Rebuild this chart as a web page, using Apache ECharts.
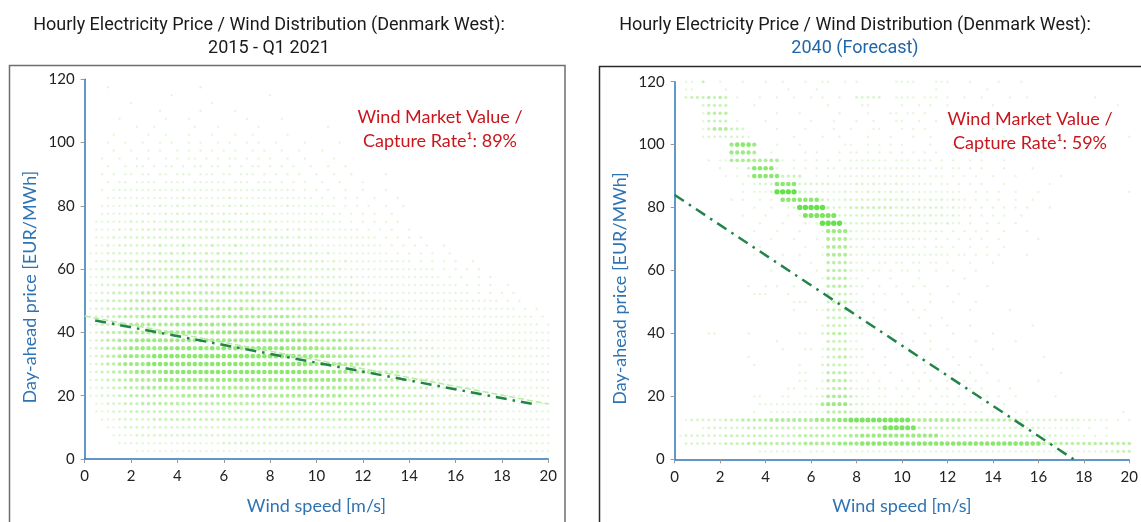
<!DOCTYPE html>
<html>
<head>
<meta charset="utf-8">
<title>Hourly Electricity Price / Wind Distribution (Denmark West)</title>
<script src="https://cdn.jsdelivr.net/npm/echarts@6/dist/echarts.min.js"></script>
<style>
  html, body { margin: 0; padding: 0; background: #ffffff; }
  #chart { width: 1141px; height: 522px; }
</style>
</head>
<body>
<div id="chart"></div>
<script>
// Price bins (EUR/MWh), one row of hourly counts per bin, top to bottom.
const priceLevels = [120, 117.5, 115, 112.5, 110, 107.5, 105, 102.5, 100, 97.5, 95, 92.5,
  90, 87.5, 85, 82.5, 80, 77.5, 75, 72.5, 70, 67.5, 65, 62.5, 60, 57.5, 55, 52.5, 50, 47.5,
  45, 42.5, 40, 37.5, 35, 32.5, 30, 27.5, 25, 22.5, 20, 17.5, 15, 12.5, 10, 7.5, 5, 2.5];

// Wind speed bin width (m/s); each row string has one density level (0-9) per bin,
// bins 0.25 ... 20 m/s, written in groups of ten.
const windBinWidth = 0.25;

// 2015 - Q1 2021 density levels
const histRows = [
  '0000000000 0000000000 0000000000 0000000000 0000000000 0000000000 0000000000 0000000000',
  '0001000000 0000000001 0000000000 0000000000 0000000000 0000000000 0000000000 0000000000',
  '0000000000 0000100000 0000000000 0100000000 0000000000 0000000000 0000000000 0000000000',
  '0000000100 0000000000 0100000000 0000000000 0000000000 0000000000 0000000000 0000000000',
  '0000000000 0010000001 0000010000 0000000000 0000000000 0000000000 0000000000 0000000000',
  '0000010000 0001000100 0000000100 0001000000 0000000000 0000000000 0000000000 0000000000',
  '0000000010 0100000010 0010000001 0000000000 0100000000 0000000000 0000000000 0000000000',
  '0000100000 1001000100 0100010010 0000100000 0000000000 0000000000 0000000000 0000000000',
  '0001001001 0010100101 0010100101 0010000100 0001000000 0000000000 0000000000 0000000000',
  '0000100100 1010010101 0101010010 1001001000 1000000000 0000000000 0000000000 0000000000',
  '0010010010 1001010110 1010110101 0100100100 0010000000 0000000000 0000000000 0000000000',
  '0001001011 0101101011 0110101011 0101010010 0100100000 0000000000 0000000000 0000000000',
  '0010101101 1011011101 1101101110 1010101001 0010010000 0100000000 0000000000 0000000000',
  '0001011011 1101111011 1111011101 1101010100 1001000100 0000000000 0000000000 0000000000',
  '0010111111 1111111111 1111111111 1111110101 0100100100 0100000000 0000000000 0000000000',
  '0001111111 1111112111 1111211111 1111111110 1010101001 0001000000 0000000000 0000000000',
  '0011111121 1121121121 1211212111 1111211111 1110101010 0100100000 0000000000 0000000000',
  '0011111111 2112121212 1212121211 2111111111 1011010101 0010000000 0000000000 0000000000',
  '0111111212 1212222122 2212212121 1211111111 1111010101 0101000000 0000000000 0000000000',
  '0111121212 2222222222 2222222222 2121212111 1111111010 1010010000 0000000000 0000000000',
  '0111212222 2222222222 2222222222 2222212121 1111111111 0101010100 0000000000 0000000000',
  '0112122222 2232223222 2322232222 2222222121 1111111111 1010101010 0100000000 0000000000',
  '1112222222 2232323232 3232323222 2222222222 1211111111 1101010101 0010000000 0000000000',
  '0112222232 3233333333 3333333232 3232222222 2121211111 1111110101 0101001000 0000000000',
  '1122222323 3333333333 3333333333 3333322222 2222111111 1111111111 0101010100 0000000000',
  '1122223333 3333343434 3434333333 3333323222 2222121111 1111111111 1010100101 0000000000',
  '1122233333 3434343434 4343434343 3333333322 2222222111 1111111111 1111010101 0010000000',
  '1122333334 4444444444 4444444444 4434333333 2222222211 1111111111 1111110101 0101000000',
  '1223333444 4444444444 4444444444 4444443333 3322222222 1111111111 1111111111 1010100000',
  '1223334444 4545454545 5454545454 4444444433 3333222222 2211111111 1111111111 1111010100',
  '1223344445 5555555555 5555555555 5555544444 3333332222 2222111111 1111111111 1111111010',
  '1233444555 5555565656 5656565555 5555555544 4444333322 2222211111 1111111111 1111111101',
  '1234445555 5666666666 6666666666 6666655555 4444443333 2222222111 1111111111 1111111111',
  '1234455566 6666666666 6666666666 6666666655 5555444433 3322222221 1111111111 1111111111',
  '1234455666 6667676767 6767676767 6767666666 5555554444 3333222222 1111111111 1111111111',
  '1234456666 6777777777 7777777777 7777776666 6655554444 3333332222 2111111111 1111111111',
  '1234456666 7777777777 7777777777 7777777766 6666555544 4433332222 2221111111 1111111111',
  '1233445566 6667777777 7777777777 7777777776 6666665555 4444333322 2222111111 1111111111',
  '1223344555 5566666666 6666666666 6666666666 6666555555 4444433332 2222221111 1111111111',
  '1122334445 5555555555 5555555555 5555555555 5555555544 4444333332 2222222111 1111111111',
  '1122233444 4444445555 5555555555 5555555555 5555444444 4444333333 2222222211 1111111111',
  '0112223334 4444444444 4444444444 4444444444 4444444444 3333333333 2222222222 1111111111',
  '0111222333 3333333333 3333333333 3333333333 3333333333 3333333322 2222222222 1111111111',
  '0011122222 2333333333 3333333333 3333333333 3333333333 3322222222 2222222222 1111111111',
  '0001112222 2222222222 2222222222 2222222222 2222222222 2222222222 2222221111 1111111111',
  '0000111122 2222222222 2222222222 2222222222 2222222222 2222222222 2222221111 1111111111',
  '0000011111 1111111111 1112222222 2222222222 2222222222 2222222222 2222211111 1111111111',
  '0000000011 1111111111 1111111111 1111111111 1111111111 1111111111 1111111111 1111111111'
];

// 2040 forecast density levels
const forecastRows = [
  '0110300100 0100010010 0010011001 0100000011 1100011100 0100001000 1000000000 0000000000',
  '0110000010 0000000001 0000100000 0000000000 0000010000 0000100000 0000000000 0000000000',
  '0233343430 1000100100 1001010010 0222220011 1101110100 1001000010 0100000000 0001000000',
  '0000233330 0001000000 0000001000 0011000001 0010100100 0000010000 0000000000 0000000100',
  '0000144440 0000000100 0100000010 0001000110 1101000100 1000100000 0000000000 0000000000',
  '0000133330 1000010000 0001000100 0100100011 0010010000 0100000000 0010000000 0000000000',
  '0000135553 3200000100 0010000100 1000110001 0101000010 1000010000 0000000000 0000000000',
  '0000122222 2210000000 1000010010 0001000100 0100100000 0000000100 0000000000 0000000001',
  '0000000006 7776000100 0100000001 1001010101 0000100010 0010000000 0000000000 0000000000',
  '0000000006 6665001000 0010100010 1101010101 0101010000 0001000000 0000000000 0000000000',
  '0000010115 5555555510 1010101010 1111111011 1011101010 0101000100 0000000000 0000000000',
  '0000000100 1037777100 1010101101 1111111111 1111011011 0101000100 0010000000 0000000000',
  '0000000010 1027777733 3300101011 1111111111 1110111010 1010010001 0000000100 0000000000',
  '0000000000 0101222777 7222222111 1221212121 1111101101 0101000100 0000010000 0000000000',
  '0000000000 0101112999 9322211112 1212121212 1111111111 0010101001 0001000000 0000000001',
  '0000000001 0100101077 7777732112 2222222222 2121212121 1010101001 0010000000 0000000000',
  '0000000000 0001001001 2999993221 3333333322 2222222121 1101010101 0100010000 0000000000',
  '0000000000 0100010001 0188888822 2222222222 2221212121 0101010100 1000000000 0000000000',
  '0000000000 0000100010 0010199992 2222222212 1212121211 0100101001 0000000000 0000000000',
  '0000000000 0001000100 0100016666 2111111111 1111111010 1010100100 0100000000 0000000000',
  '0000000000 0000001000 1000105555 2111111111 1111010101 0101001000 0001000000 0000000000',
  '0000000000 0000100000 0010015555 2110101111 1101011010 0100100100 0000000000 0000000000',
  '0000000000 0001000010 0100015555 2111111111 1111111101 1010101000 0100000000 0000000000',
  '0000000000 0000000000 0001004444 2111011011 0110110100 0100010000 0000000000 0000000000',
  '0000000000 0000001000 0000104444 2110110101 1010010010 0010000000 0000000000 0000000000',
  '0000000000 0000000000 0000014444 1101000100 0010000000 1000000000 0000000000 0000000000',
  '0000000000 0010010100 1000004444 2110010010 0101000100 0000100000 0000000000 0000000000',
  '0000000000 0001110001 0000003333 2100101001 0000100001 0000000000 0000000000 0000000000',
  '0000000000 0000000000 1110003444 2110100000 1000100010 0010000000 0000000000 0000000000',
  '0000000000 0000000000 1000113333 1110001000 0101000000 0100000010 0000000000 0000000000',
  '0000000000 0000000000 0000003333 1100100000 0010001000 0000000000 0000000000 0000000000',
  '0000000000 0000000000 0000013333 1111000000 0000100100 0100000000 0010000000 0000000000',
  '0000011000 0010000000 0110023443 1110000101 0001000010 0000010000 0000000000 0000000000',
  '0000000000 0000000100 0000003333 1100000000 0100100000 0010000001 0000000000 0000000000',
  '0000000000 0000000010 0011013333 1110100010 1000100100 0000010000 0000000000 0000000000',
  '0000000000 0010000000 0000013344 2110001000 0101000010 0100000000 0000100000 0000000000',
  '0000000000 0001000000 0100023333 1101001000 1001010001 0001000000 0000000000 0000000000',
  '0000000000 0000000000 0110014444 2110100100 0101001010 0100100000 0000000100 0000000000',
  '0000000000 0000000000 0110014444 2101010001 0010100100 1010001000 0001000000 0000000000',
  '0000000000 0000000001 1010113444 2111011010 1010010101 0101000010 0000000000 0000000000',
  '0000000000 0001100011 0011125555 3211011001 0100101101 0100101001 0000001000 0000000000',
  '0000000000 0000111111 1111256666 3221111111 1011010110 1001000100 0000000000 0000000000',
  '0000000000 0001001111 1111114444 3221212121 1111111111 1111010101 0100000000 0000000010',
  '0122222233 3444445555 5555666677 8888888888 8555555555 4444444444 2222222222 2121110101',
  '0000122222 2233333333 3333334444 4444448888 8833333333 2222222222 2222111111 1010010000',
  '1222222233 3333333333 3444444444 5566666666 6666663333 3333333333 3332222111 1101010000',
  '0222222233 3344444444 4455555566 6677777777 7777777777 7777777777 7777444444 4444444444',
  '0000000000 0000111111 1101110101 1111111111 1111111111 1111111111 1111111111 1111122333'
];

// Linear trend of price against wind speed: [wind, price] end points
const histTrend = [[0.45, 43.8], [19.45, 17.2]];
const histTrendGuide = [[0, 45.2], [20, 17.4]];
const forecastTrend = [[0, 84], [17.55, 0]];

// Axis ticks
const windTicks = { min: 0, max: 20, step: 2 };
const priceTicks = { min: 0, max: 120, step: 20 };

// Panel texts
const mainTitle = 'Hourly Electricity Price / Wind Distribution (Denmark West):';
const periodLabels = ['2015 - Q1 2021', '2040 (Forecast)'];
const captureRates = ['89%', '59%'];

function toPoints(rows) {
  const pts = [];
  rows.forEach((row, r) => {
    const cells = row.replace(/\s+/g, '');
    for (let i = 0; i < cells.length; i++) {
      const v = +cells[i];
      if (v > 0) pts.push([windBinWidth * (i + 1), priceLevels[r], v]);
    }
  });
  return pts;
}

const BLUE = '#2e74b5';
const AXIS_FONT = 'Lato, "Open Sans", sans-serif';
const TITLE_FONT = 'Roboto, "Noto Sans", sans-serif';

function xAxisCfg(gridIndex) {
  return {
    type: 'value', gridIndex,
    min: windTicks.min, max: windTicks.max, interval: windTicks.step,
    name: 'Wind speed [m/s]', nameLocation: 'middle', nameGap: 38,
    nameTextStyle: { color: BLUE, fontSize: 18, fontFamily: AXIS_FONT },
    axisLine: { show: true, onZero: false, lineStyle: { color: BLUE, width: 1.5 } },
    axisTick: { show: true, length: 4, lineStyle: { color: '#999' } },
    axisLabel: { color: '#222', fontSize: 15, fontFamily: AXIS_FONT, margin: 10 },
    splitLine: { show: false }
  };
}
function yAxisCfg(gridIndex) {
  return {
    type: 'value', gridIndex,
    min: priceTicks.min, max: priceTicks.max, interval: priceTicks.step,
    name: 'Day-ahead price [EUR/MWh]', nameLocation: 'middle', nameGap: 46,
    nameTextStyle: { color: BLUE, fontSize: 18, fontFamily: AXIS_FONT, padding: [0, 36, 0, 0] },
    axisLine: { show: true, onZero: false, lineStyle: { color: BLUE, width: 1.5 } },
    axisTick: { show: true, length: 4, lineStyle: { color: '#999' } },
    axisLabel: { color: '#222', fontSize: 15, fontFamily: AXIS_FONT, margin: 10 },
    splitLine: { show: false }
  };
}
function titleCfg(center, sub, subColor) {
  return {
    text: mainTitle, subtext: sub, left: center, top: 11, textAlign: 'center', itemGap: 5,
    textStyle: { fontFamily: TITLE_FONT, fontSize: 18, fontWeight: 'normal', color: '#1a1a1a' },
    subtextStyle: { fontFamily: TITLE_FONT, fontSize: 18, color: subColor }
  };
}
function densitySeries(idx, rows) {
  return {
    type: 'scatter', xAxisIndex: idx, yAxisIndex: idx,
    data: toPoints(rows), symbol: 'circle', silent: true, z: 2
  };
}
function trendSeries(idx, pts, style) {
  return {
    type: 'line', xAxisIndex: idx, yAxisIndex: idx, data: pts,
    symbol: 'none', silent: true, z: 5, lineStyle: style
  };
}

const dashDot = [11, 6, 2.5, 6];
const chart = echarts.init(document.getElementById('chart'), null, { renderer: 'canvas' });
chart.setOption({
  animation: false,
  backgroundColor: '#ffffff',
  title: [
    titleCfg(264, periodLabels[0], '#1a1a1a'),
    titleCfg(850, periodLabels[1], '#2266a8')
  ],
  grid: [
    { left: 84.7, top: 79.3, width: 463.6, height: 379.7 },
    { left: 674.7, top: 81.7, width: 462, height: 377.6 }
  ],
  xAxis: [xAxisCfg(0), xAxisCfg(1)],
  yAxis: [yAxisCfg(0), yAxisCfg(1)],
  visualMap: [{
    show: false, type: 'continuous', dimension: 2, min: 1, max: 9, seriesIndex: [0, 1],
    inRange: {
      color: ['#dcf5d1', '#bcefa6', '#98e878', '#6ee24a', '#3ddb1c'],
      symbolSize: [2.4, 5.4]
    }
  }],
  series: [
    densitySeries(0, histRows),
    densitySeries(1, forecastRows),
    trendSeries(0, histTrendGuide, { color: '#b4eca0', width: 1.5, type: [6, 3] }),
    trendSeries(0, histTrend, { color: '#23844a', width: 2.5, type: dashDot }),
    trendSeries(1, forecastTrend, { color: '#23844a', width: 2.5, type: dashDot })
  ],
  graphic: [
    { type: 'rect', silent: true, z: 0,
      shape: { x: 9.5, y: 65.5, width: 555.5, height: 500 },
      style: { fill: 'none', stroke: '#6e6e6e', lineWidth: 1.5 } },
    { type: 'rect', silent: true, z: 0,
      shape: { x: 599.5, y: 66.5, width: 600, height: 500 },
      style: { fill: 'none', stroke: '#2a2a2a', lineWidth: 1.5 } },
    { type: 'text', silent: true, z: 10, x: 440, y: 105,
      style: { text: 'Wind Market Value /\nCapture Rate\u00b9: ' + captureRates[0],
        fill: '#c8161d', font: '18px ' + AXIS_FONT, textAlign: 'center', lineHeight: 24 } },
    { type: 'text', silent: true, z: 10, x: 1030, y: 107,
      style: { text: 'Wind Market Value /\nCapture Rate\u00b9: ' + captureRates[1],
        fill: '#c8161d', font: '18px ' + AXIS_FONT, textAlign: 'center', lineHeight: 24 } }
  ]
});
</script>
</body>
</html>
